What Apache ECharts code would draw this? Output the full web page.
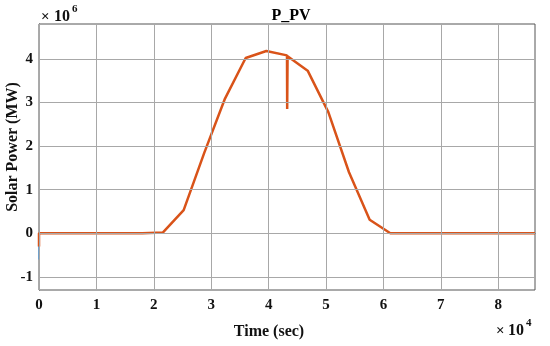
<!DOCTYPE html>
<html>
<head>
<meta charset="utf-8">
<script src="https://cdn.jsdelivr.net/npm/echarts@6/dist/echarts.min.js"></script>
<style>
html,body{margin:0;padding:0;background:#fff;}
#chart{width:550px;height:346px;}
</style>
</head>
<body>
<div id="chart"></div>
<script>
// Time (s)
var timeSec = [0, 0, 3600, 7200, 10800, 14400, 18000, 21600, 25200, 28800, 32400, 36000, 39600, 43200, 43230, 43270, 43300, 46800, 50400, 54000, 57600, 61200, 64800, 68400, 72000, 75600, 79200, 82800, 86400];
// Solar power (W, shown as x10^6)
var pvPower = [-300000, 0, 0, 0, 0, 0, 0, 20000, 530000, 1850000, 3090000, 4020000, 4180000, 4080000, 2850000, 2850000, 4060000, 3730000, 2780000, 1400000, 310000, 0, 0, 0, 0, 0, 0, 0, 0];
// Short initial transient (blue trace at t=0)
var blueTime = [0, 0];
var bluePower = [0, -600000];

var xTicks = [0, 10000, 20000, 30000, 40000, 50000, 60000, 70000, 80000];
var yTicks = [-1000000, 0, 1000000, 2000000, 3000000, 4000000];

var chart = echarts.init(document.getElementById('chart'), null, {renderer: 'canvas'});
var font = 'Liberation Serif';
var pv = timeSec.map(function(t, i){ return [t, pvPower[i]]; });
var bl = blueTime.map(function(t, i){ return [t, bluePower[i]]; });

var gridLines = [];
xTicks.forEach(function(v){ gridLines.push({xAxis: v}); });
yTicks.forEach(function(v){ gridLines.push({yAxis: v}); });

function txt(x, y, s, size, align, rot) {
  return {type: 'text', x: x, y: y, rotation: rot || 0,
    style: {text: s, font: 'bold ' + size + 'px "Liberation Serif"', fill: '#111', align: align || 'left', verticalAlign: 'middle'}};
}

chart.setOption({
  animation: false,
  backgroundColor: '#fff',
  grid: {left: 39, right: 15, top: 24, bottom: 56, show: true, borderColor: '#555', borderWidth: 1},
  title: {text: 'P_PV', left: 286, top: 3, textAlign: 'center',
    textStyle: {fontFamily: font, fontWeight: 'bold', fontSize: 16, color: '#000'}},
  xAxis: {
    type: 'value', min: 0, max: 86400,
    axisLine: {show: true, lineStyle: {color: '#555'}},
    axisTick: {show: true, inside: true, length: 4, customValues: xTicks, lineStyle: {color: '#555'}},
    splitLine: {show: false},
    axisLabel: {customValues: xTicks, margin: 8, fontFamily: font, fontWeight: 'bold', fontSize: 15, color: '#111',
      formatter: function(v){ return String(Math.round(v / 10000)); }}
  },
  yAxis: {
    type: 'value', min: -1300000, max: 4800000,
    axisLine: {show: true, lineStyle: {color: '#555'}},
    axisTick: {show: true, inside: true, length: 4, customValues: yTicks, lineStyle: {color: '#555'}},
    splitLine: {show: false},
    axisLabel: {customValues: yTicks, margin: 6, fontFamily: font, fontWeight: 'bold', fontSize: 15, color: '#111',
      formatter: function(v){ return String(Math.round(v / 1000000)); }}
  },
  graphic: [
    txt(41, 17, '×', 15),
    txt(54, 17, '10', 16),
    txt(72, 9, '6', 11),
    txt(496, 331, '×', 15),
    txt(508, 331, '10', 16),
    txt(526, 323, '4', 11),
    txt(269, 332, 'Time (sec)', 16, 'center'),
    txt(13, 147, 'Solar Power (MW)', 16, 'center', Math.PI / 2)
  ],
  series: [
    {type: 'line', data: [], silent: true, symbol: 'none',
      markLine: {silent: true, symbol: 'none', label: {show: false},
        lineStyle: {color: '#a8a8a8', width: 1, type: 'solid'}, data: gridLines}},
    {type: 'line', data: bl, symbol: 'none', lineStyle: {color: '#5b9bd5', width: 1.5}, z: 3},
    {type: 'line', data: pv, symbol: 'none', lineStyle: {color: '#d95319', width: 2.5}, z: 4}
  ]
});
</script>
</body>
</html>
